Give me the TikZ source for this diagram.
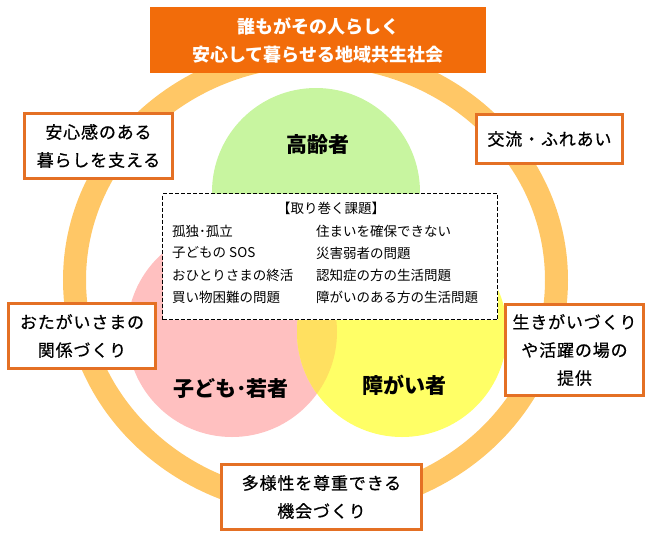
\documentclass[tikz,border=0pt]{standalone}
\usepackage{fontspec}
\setmainfont{Noto Sans CJK JP}
\newfontfamily\jpmed[FakeBold=0.6,LetterSpace=5]{Noto Sans CJK JP}
\usepackage{tikz}
\usetikzlibrary{
  positioning
}
\definecolor{titleorange}{RGB}{242,108,10}
\definecolor{frameorange}{RGB}{228,112,36}
\definecolor{ringorange}{RGB}{255,199,102}
\definecolor{eldergreen}{RGB}{200,245,160}
\definecolor{youthpink}{RGB}{255,192,192}
\definecolor{disabyellow}{RGB}{255,255,102}
\definecolor{lensyellow}{RGB}{255,224,96}
\tikzset{
  goalbox/.style={
    draw=frameorange,
    line width=3.5pt,
    fill=white,
    align=center,
    inner sep=0pt,
    font=\jpmed\fontsize{17}{28}\selectfont},
  grouplabel/.style={
    font=\bfseries\fontsize{21}{24}\selectfont},
  issueitem/.style={
    anchor=west,
    inner sep=0pt,
    font=\fontsize{13.5}{16}\selectfont}
  }

\begin{document}
\begin{tikzpicture}[x=1pt,y=-1pt]
      \useasboundingbox (0,0) rectangle (662,550);
      % ring and circles
      \draw [ringorange, line width=23pt] (315.5,280) ellipse [x radius=241pt, y radius=225pt];
      \fill [eldergreen] (316,192) circle [radius=104pt];
      \fill [youthpink] (232,332) circle [radius=105pt];
      \fill [disabyellow] (402,332) circle [radius=105pt];
      \begin{scope}
        \clip (232,332) circle [radius=105pt];
        \fill [lensyellow] (402,332) circle [radius=105pt];
      \end{scope}
      \node [grouplabel] (elder) at (318,145) {高齢者};
      \node [grouplabel] (youth) at (231,389) {子ども･若者};
      \node [grouplabel] (disab) at (404,385) {障がい者};
      % issues
      \node [draw, line width=1.6pt, fill=white, minimum width=335pt, minimum height=126pt, dash pattern=on 4pt off 2pt] (issues) at (330,256.5) {};
      \node [font=\fontsize{13.5}{16}\selectfont] (issuehead) at (331,208) {【取り巻く課題】};
      \node [issueitem] (iso) at (172,231) {孤独･孤立};
      \node [issueitem] (sos) at (172,253) {子どもの SOS};
      \node [issueitem] (solo) at (172,275) {おひとりさまの終活};
      \node [issueitem] (shop) at (172,297) {買い物困難の問題};
      \node [issueitem] (house) at (316,231) {住まいを確保できない};
      \node [issueitem] (disaster) at (316,253) {災害弱者の問題};
      \node [issueitem] (dementia) at (316,275) {認知症の方の生活問題};
      \node [issueitem] (handicap) at (316,297) {障がいのある方の生活問題};
      % title and goals
      \node [fill=titleorange, text=white, align=center, minimum width=336pt, minimum height=66pt, font=\bfseries\fontsize{18}{28}\selectfont] (title) at (318,40) {誰もがその人らしく\\安心して暮らせる地域共生社会};
      \node [goalbox, minimum width=148pt, minimum height=65pt] (safe) at (98.5,146) {安心感のある\\暮らしを支える};
      \node [goalbox, minimum width=146pt, minimum height=49pt] (contact) at (549.5,139) {交流・ふれあい};
      \node [goalbox, minimum width=147pt, minimum height=65pt] (mutual) at (82,336) {おたがいさまの\\関係づくり};
      \node [goalbox, minimum width=138pt, minimum height=91pt] (purpose) at (574.5,350) {生きがいづくり\\や活躍の場の\\提供};
      \node [goalbox, minimum width=200pt, minimum height=65pt] (diversity) at (321.5,497) {多様性を尊重できる\\機会づくり};
    \end{tikzpicture}
\end{document}
